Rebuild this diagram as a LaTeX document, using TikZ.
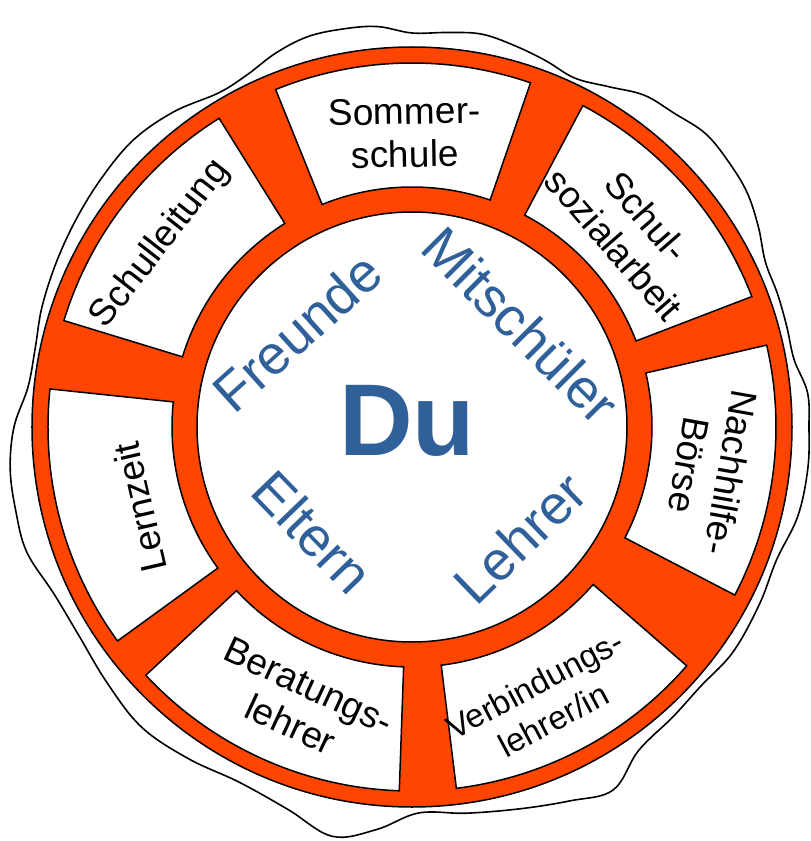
\documentclass[tikz,border=0pt]{standalone}
\usepackage{fontspec}
\setmainfont{Liberation Sans}
\definecolor{ringorange}{RGB}{255,69,0}
\definecolor{dublue}{RGB}{47,96,153}
\begin{document}
\begin{tikzpicture}[x=1pt,y=1pt,
  boxlabel/.style={align=center, inner sep=0pt, font=\fontsize{37}{43}\selectfont},
  smalllabel/.style={align=center, inner sep=0pt, font=\fontsize{33}{40}\selectfont},
  innerword/.style={inner sep=0pt, text=dublue, font=\fontsize{55}{60}\selectfont},
  sector/.style={fill=white, draw=black, line width=1.5pt},
  ringstyle/.style={fill=ringorange, draw=black, line width=1.5pt, even odd rule},
  blob/.style={draw=black, line width=1.6pt}]
\useasboundingbox (-412,-414) rectangle (399,427);
\draw[blob] plot[smooth cycle, tension=0.6] coordinates {
 (0:397pt) (5:397pt) (10:388pt) (15:388pt) (20:389pt) (25:390pt) (30:400pt)
 (35:409pt) (40:413pt) (45:415pt) (50:409pt) (55:405pt) (60:393pt) (65:385pt)
 (70:390pt) (75:395pt) (80:399pt) (85:396pt) (90:394pt) (95:402pt) (100:404pt)
 (105:404pt) (110:398pt) (115:389pt) (120:386pt) (127:395pt) (134:400pt)
 (141:398pt) (148:395pt) (155:392pt) (162:389pt) (168:385pt) (174:386pt)
 (180:398pt) (186:404pt) (192:405pt) (198:405pt) (205:395pt) (212:393pt)
 (220:398pt) (228:404pt) (236:400pt) (244:395pt) (252:402pt) (259:417pt)
 (265:404pt) (271:386pt) (278:390pt) (286:397pt) (293:406pt) (299:415pt)
 (305:395pt) (312:390pt) (318:388pt) (325:392pt) (333:390pt) (340:388pt)
 (347:396pt) (354:398pt)};
\path[ringstyle] (0,0) circle[radius=380pt] (0,0) circle[radius=215pt];
\foreach \a/\b in {21/62, 71/112, 122/163, 174/216, 223/268, 277/319, 332.5/373} {
  \path[sector] (\a:240pt) arc[start angle=\a, end angle=\b, radius=240pt]
    -- (\b:364pt) arc[start angle=\b, end angle=\a, radius=364pt] -- cycle;
}
\node[boxlabel, rotate=1] (sommer) at (91.4:294pt) {Sommer-\\schule};
\node[boxlabel, rotate=-49] (sozial) at (42:294pt) {Schul-\\sozialarbeit};
\node[boxlabel, rotate=-100] (nachhilfe) at (-8:301pt) {Nachhilfe-\\Börse};
\node[smalllabel, rotate=28] (verbindung) at (-64.4:305pt) {Verbindungs-\\lehrer/in};
\node[boxlabel, rotate=-25] (beratung) at (248:300pt) {Beratungs-\\lehrer};
\node[boxlabel, rotate=103] (lernzeit) at (196.5:284pt) {Lernzeit};
\node[boxlabel, rotate=52] (leitung) at (144:311pt) {Schulleitung};
\node[inner sep=0pt, text=dublue, font=\fontsize{102}{110}\selectfont\bfseries] (du) at (-5,6) {Du};
\node[innerword, rotate=42] (freunde) at (-115,95) {Freunde};
\node[innerword, rotate=-45] (mitschueler) at (109,102) {Mitschüler};
\node[innerword, rotate=-46] (eltern) at (-99,-105) {Eltern};
\node[innerword, rotate=44] (lehrer) at (108,-111) {Lehrer};
\end{tikzpicture}
\end{document}
